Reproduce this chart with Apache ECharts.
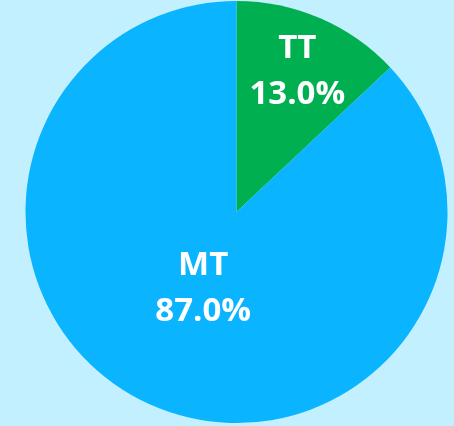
<!DOCTYPE html>
<html>
<head>
<meta charset="utf-8">
<script src="https://cdn.jsdelivr.net/npm/echarts@6/dist/echarts.min.js"></script>
<style>
  html, body { margin: 0; padding: 0; background: #C3F0FF; }
  #chart { width: 454px; height: 426px; }
</style>
</head>
<body>
<div id="chart"></div>
<script>
// share of each category (percent)
const categories = ['TT', 'MT']
const values = [13.0, 87.0]
const colors = ['#00B050', '#0AB4FF']

const pieData = categories.map((name, i) => ({
  name: name,
  value: values[i],
  itemStyle: { color: colors[i] }
}))

const labelStyle = {
  color: '#FFFFFF',
  fontFamily: 'Open Sans',
  fontWeight: 'bold',
  fontSize: 33,
  lineHeight: 46,
  formatter: p => p.name + '\n' + p.value.toFixed(1) + '%'
}

// invisible helper pie that only carries one label at a chosen distance
const labelSeries = (radius, showName) => ({
  type: 'pie',
  center: [236.5, 212],
  radius: [0, radius],
  startAngle: 90,
  silent: true,
  animation: false,
  itemStyle: { color: 'transparent' },
  labelLine: { show: false },
  data: categories.map((name, i) => ({
    name: name,
    value: values[i],
    label: Object.assign({ show: name === showName, position: 'inside' }, labelStyle)
  }))
})

const chart = echarts.init(document.getElementById('chart'))
chart.setOption({
  backgroundColor: '#C3F0FF',
  animation: false,
  series: [
    {
      type: 'pie',
      center: [236.5, 212],
      radius: [0, 211],
      startAngle: 90,
      label: { show: false },
      labelLine: { show: false },
      data: pieData
    },
    labelSeries(300, 'TT'),
    labelSeries(162, 'MT')
  ]
})
</script>
</body>
</html>
